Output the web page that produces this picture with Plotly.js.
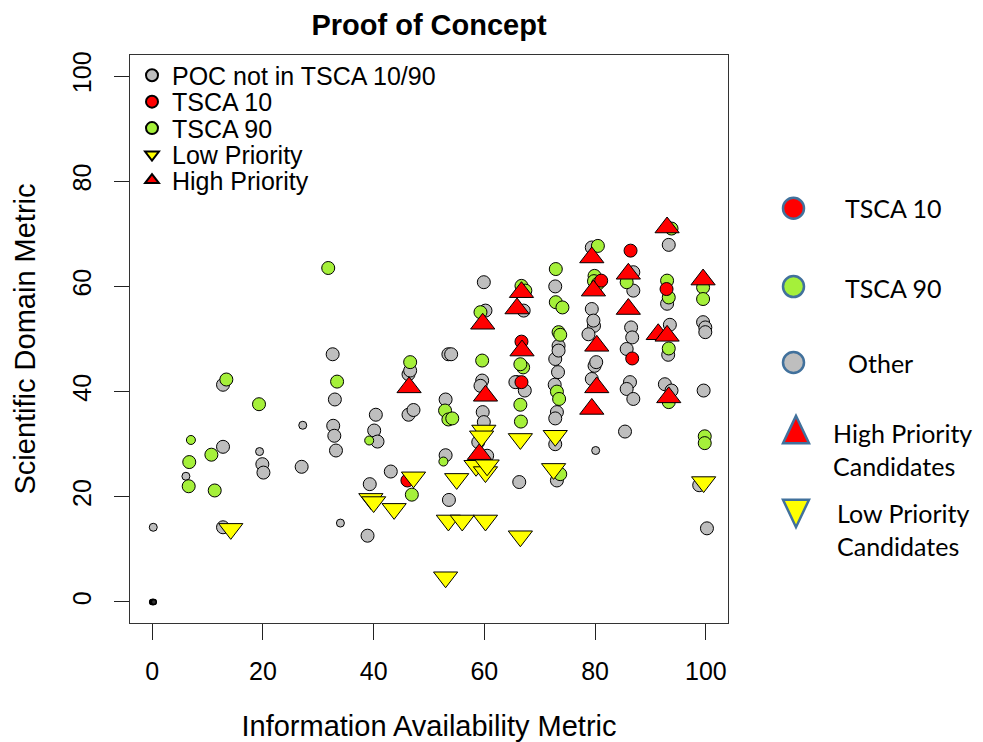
<!DOCTYPE html>
<html>
<head>
<meta charset="utf-8">
<script src="https://cdn.plot.ly/plotly-3.0.1.min.js"></script>
<style>html,body{margin:0;padding:0;background:#fff;}#chart{width:983px;height:742px;}</style>
</head>
<body>
<div id="chart"></div>
<script>
// ---- data ----
var otherX = [12.8,12.8,19.9,20.1,27.0,12.8,32.6,33.0,32.7,32.9,33.2,40.4,40.1,40.7,43.1,39.3,38.9,46.3,46.6,46.3,47.2,53.5,54.0,53.0,53.0,53.6,59.9,60.2,59.6,59.3,59.7,59.9,58.9,60.5,67.1,65.9,67.3,65.6,66.3,72.8,73.4,72.8,73.3,72.7,73.1,72.8,72.8,73.1,73.4,79.4,79.4,79.8,78.8,79.9,79.4,79.7,80.2,86.9,86.9,86.5,86.7,85.7,86.3,85.7,86.9,85.4,93.3,93.0,93.5,93.2,92.6,93.8,99.5,99.9,99.9,99.6,98.8,100.2];
var otherY = [41.3,29.5,26.2,24.6,25.7,14.2,47.1,38.5,33.5,31.6,28.8,35.6,32.6,30.5,24.8,22.4,12.6,43.3,44.0,35.6,36.5,47.1,47.1,38.5,27.9,19.4,60.8,55.4,42.1,41.1,36.1,34.2,30.4,27.8,55.4,41.8,40.2,41.8,22.8,60.0,48.7,46.2,43.7,41.3,36.1,34.9,30.0,23.1,47.8,67.4,55.7,52.5,50.9,44.9,42.4,53.5,45.6,62.7,59.2,52.2,50.3,48.1,41.8,40.5,38.6,32.4,67.9,56.7,52.7,47.0,41.4,40.2,53.2,52.2,51.3,40.2,22.2,14.0];
var otherSmallX = [0.2,6.1,19.4,27.2,34.0,80.1];
var otherSmallY = [14.2,23.9,28.6,33.6,15.0,28.8];
var zeroX = [0.0,0.1,0.2,0.3];
var zeroY = [0.0,0.0,0.0,0.0];
var tsca90X = [13.4,19.3,10.7,6.7,6.6,11.3,31.8,33.4,46.6,46.9,52.9,53.5,54.2,59.3,59.6,66.7,67.4,67.0,66.5,66.5,66.6,72.9,72.9,74.1,73.4,73.7,73.1,73.5,73.7,80.5,79.9,79.8,80.5,85.7,93.0,93.3,93.3,93.3,93.8,99.5,99.5,99.8,99.8];
var tsca90Y = [42.3,37.6,28.0,26.6,22.0,21.2,63.5,41.9,45.6,20.4,36.4,34.7,34.9,55.1,45.9,60.1,59.2,44.6,45.2,37.5,34.3,63.3,57.0,56.0,51.3,50.8,40.0,38.6,24.3,67.7,62.0,61.0,60.5,60.8,61.1,57.9,48.2,38.0,71.0,59.8,57.6,31.5,30.2];
var tsca90SmallX = [39.2,52.6,7.0];
var tsca90SmallY = [30.7,26.7,30.8];
var tsca10X = [46.1,66.7,66.7,81.1,86.4,86.7,92.9];
var tsca10Y = [23.1,49.5,41.8,61.1,66.8,46.3,59.5];
var highX = [46.4,59.7,60.2,59.1,66.7,65.9,66.8,79.4,79.7,80.3,80.3,79.4,86.0,86.0,93.0,91.4,93.0,93.3,99.5];
var highY = [40.8,52.9,39.2,28.1,58.9,55.8,47.8,65.5,59.2,48.7,40.8,36.7,62.4,55.7,71.2,50.9,50.6,38.9,61.3];
var lowX = [14.2,39.5,40.0,43.7,47.2,53.0,53.5,56.0,55.0,59.9,59.5,58.5,60.2,60.5,60.2,66.5,66.5,72.8,72.5,99.6];
var lowY = [13.9,19.6,19.0,17.7,23.7,4.7,15.5,15.5,23.4,32.6,31.5,25.9,24.7,26.0,15.5,31.0,12.5,31.6,25.3,22.8];
var xTicks = [0,20,40,60,80,100];
var yTicks = [0,20,40,60,80,100];
var sideLabels = ["TSCA 10","TSCA 90","Other","High Priority<br>Candidates","Low Priority<br>Candidates"];

// ---- styles ----
var GREY = '#BEBEBE', RED = '#FF0000', GREEN = '#A5F03A', YELLOW = '#FFFF00';
var FONT = 'Liberation Sans, Arial, sans-serif';
var OUT = {color:'#000', width:1};

var traces = [
  {x:zeroX, y:zeroY, type:'scatter', mode:'markers', showlegend:false,
   marker:{symbol:'circle', size:5, color:'#333', line:{color:'#000', width:1.5}}},
  {x:otherSmallX, y:otherSmallY, type:'scatter', mode:'markers', showlegend:false,
   marker:{symbol:'circle', size:8, color:GREY, line:OUT}},
  {x:otherX, y:otherY, type:'scatter', mode:'markers', name:'POC not in TSCA 10/90', legend:'legend',
   marker:{symbol:'circle', size:13, color:GREY, line:OUT}},
  {x:tsca90SmallX, y:tsca90SmallY, type:'scatter', mode:'markers', showlegend:false,
   marker:{symbol:'circle', size:9, color:GREEN, line:OUT}},
  {x:tsca90X, y:tsca90Y, type:'scatter', mode:'markers', name:'TSCA 90', legend:'legend3',
   marker:{symbol:'circle', size:13, color:GREEN, line:OUT}},
  {x:tsca10X, y:tsca10Y, type:'scatter', mode:'markers', name:'TSCA 10', legend:'legend2',
   marker:{symbol:'circle', size:13, color:RED, line:OUT}},
  {x:highX, y:highY, type:'scatter', mode:'markers', name:'High Priority', legend:'legend5',
   marker:{symbol:'triangle-up', size:21, color:RED, line:OUT}},
  {x:lowX, y:lowY, type:'scatter', mode:'markers', name:'Low Priority', legend:'legend4',
   marker:{symbol:'triangle-down', size:21, color:YELLOW, line:OUT}}
];

var T = 54.5, B = 623.5, L = 130, R = 728;
function py(p){ return (B - p) / (B - T); }
function px(p){ return (p - L) / (R - L); }

function leg(yPix){
  return {x: px(132), y: py(yPix), xanchor:'left', yanchor:'middle', bgcolor:'rgba(0,0,0,0)',
          borderwidth:0, itemsizing:'constant', font:{family:FONT, size:25, color:'#000'}};
}

var SIDE_LINE = '#41719C';
var shapes = [
  {type:'circle', xref:'paper', yref:'paper', x0:px(783), x1:px(804), y0:py(218.5), y1:py(197.5), fillcolor:RED, line:{color:SIDE_LINE, width:2.5}},
  {type:'circle', xref:'paper', yref:'paper', x0:px(783), x1:px(804), y0:py(297), y1:py(276), fillcolor:GREEN, line:{color:SIDE_LINE, width:2.5}},
  {type:'circle', xref:'paper', yref:'paper', x0:px(783), x1:px(804), y0:py(373), y1:py(352), fillcolor:GREY, line:{color:SIDE_LINE, width:2.5}},
  {type:'path', xref:'paper', yref:'paper',
   path:'M '+px(796)+' '+py(416)+' L '+px(783)+' '+py(443.5)+' L '+px(809)+' '+py(443.5)+' Z',
   fillcolor:RED, line:{color:SIDE_LINE, width:2.5}},
  {type:'path', xref:'paper', yref:'paper',
   path:'M '+px(783)+' '+py(500)+' L '+px(809)+' '+py(500)+' L '+px(796)+' '+py(527.5)+' Z',
   fillcolor:YELLOW, line:{color:SIDE_LINE, width:2.5}}
];

var SIDEFONT = {family:'Lato, Carlito, Calibri, sans-serif', size:25, color:'#000'};
var sideX = [843, 843, 846, 831, 835];
var sideY = [208, 288, 363, 450, 530];
var annotations = sideLabels.map(function(t, i){
  return {text:t, xref:'paper', yref:'paper', x:px(sideX[i]), y:py(sideY[i]), xanchor:'left', yanchor:'middle',
          align:'left', showarrow:false, font:SIDEFONT};
});

var layout = {
  width:983, height:742,
  margin:{l:L, r:983-R, t:T, b:742-B, pad:0},
  paper_bgcolor:'#fff', plot_bgcolor:'#fff',
  font:{family:FONT, color:'#000'},
  title:{text:'<b>Proof of Concept</b>', font:{family:FONT, size:29, color:'#000'},
         xref:'paper', x:0.5, xanchor:'center', yref:'container', y:1-25/742, yanchor:'middle'},
  xaxis:{range:[-4,104], tickvals:xTicks, ticktext:xTicks.map(String), ticks:'outside', ticklen:16, tickwidth:1, tickcolor:'#222',
         showline:true, mirror:true, linecolor:'#333', linewidth:1.2, showgrid:false, zeroline:false,
         tickfont:{family:FONT, size:25, color:'#000'}, ticklabelstandoff:10,
         title:{text:'Information Availability Metric', font:{family:FONT, size:29, color:'#000'}, standoff:36}},
  yaxis:{range:[-4,104], tickvals:yTicks, ticktext:yTicks.map(String), ticks:'outside', ticklen:15, tickwidth:1, tickcolor:'#222',
         showline:true, mirror:true, linecolor:'#333', linewidth:1.2, showgrid:false, zeroline:false,
         tickangle:-90, tickfont:{family:FONT, size:25, color:'#000'}, ticklabelstandoff:13,
         title:{text:'Scientific Domain Metric', font:{family:FONT, size:29, color:'#000'}, standoff:23}},
  legend: leg(75),
  legend2: leg(101.5),
  legend3: leg(128),
  legend4: leg(154.5),
  legend5: leg(180),
  shapes: shapes,
  annotations: annotations
};

Plotly.newPlot('chart', traces, layout, {staticPlot:true, displayModeBar:false});
</script>
</body>
</html>
